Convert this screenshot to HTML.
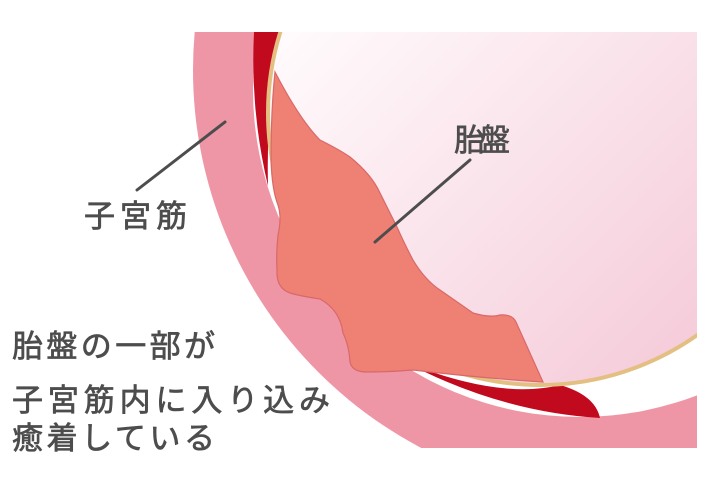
<!DOCTYPE html><html><head><meta charset="utf-8"><style>body{margin:0}svg{display:block}text{font-family:"Liberation Sans","Noto Sans CJK JP",sans-serif;fill:#4d4d4d;font-size:31px;stroke:#4d4d4d;stroke-width:0.7}</style></head><body>
<svg width="720" height="479" viewBox="0 0 720 479" xmlns="http://www.w3.org/2000/svg">
<defs>
<linearGradient id="g" x1="0" y1="0" x2="1" y2="1"><stop offset="0.2" stop-color="#fffafc"/><stop offset="1" stop-color="#f3c2d2"/></linearGradient>
<clipPath id="c"><rect x="0" y="32" width="697" height="416"/></clipPath>
</defs>
<rect width="720" height="479" fill="#fff"/>
<g clip-path="url(#c)">
<circle cx="620" cy="70" r="427" fill="#ef96a6"/>
<circle cx="580" cy="90" r="327" fill="#fff"/>
<path d="M254,32 L280,32 Q266,110 268,186 Q250,110 254,32Z" fill="#c20a1f"/>
<path d="M405,362 Q500,400 560,385 Q595,395 600,418 Q500,412 405,362Z" fill="#c20a1f"/>
<circle cx="540" cy="113" r="272" fill="url(#g)" stroke="#e3bf82" stroke-width="4"/>
<path d="M275,72 Q300,120 320,140 Q340,150 350,157 Q372,175 380,193 L397,227 Q405,245 413,260 Q425,280 440,290 L473,313 Q490,318 500,315 Q512,314 516,322 L543,382 Q480,378 413,370 Q390,372 367,372 Q352,372 350,362 Q349,345 343,333 Q340,310 320,299 Q300,296 290,293 Q276,288 277,270 Q276,255 278,235 Q282,217 278,205 Q272,190 271,160 Q271,110 275,72Z" fill="#ee8074" stroke="#d96868" stroke-width="1.2"/>
</g>
<g stroke="#4d4d4d" stroke-width="3" stroke-linecap="round">
<line x1="225" y1="122" x2="137" y2="190"/>
<line x1="470" y1="160" x2="375" y2="242"/>
</g>
<text x="84" y="227" textLength="103" lengthAdjust="spacing">子宮筋</text>
<text x="454" y="151" textLength="56" lengthAdjust="spacing">胎盤</text>
<text x="12" y="357" textLength="203" lengthAdjust="spacing">胎盤の一部が</text>
<text x="12" y="411" textLength="318" lengthAdjust="spacing">子宮筋内に入り込み</text>
<text x="12" y="449" textLength="203" lengthAdjust="spacing">癒着している</text>
</svg></body></html>
